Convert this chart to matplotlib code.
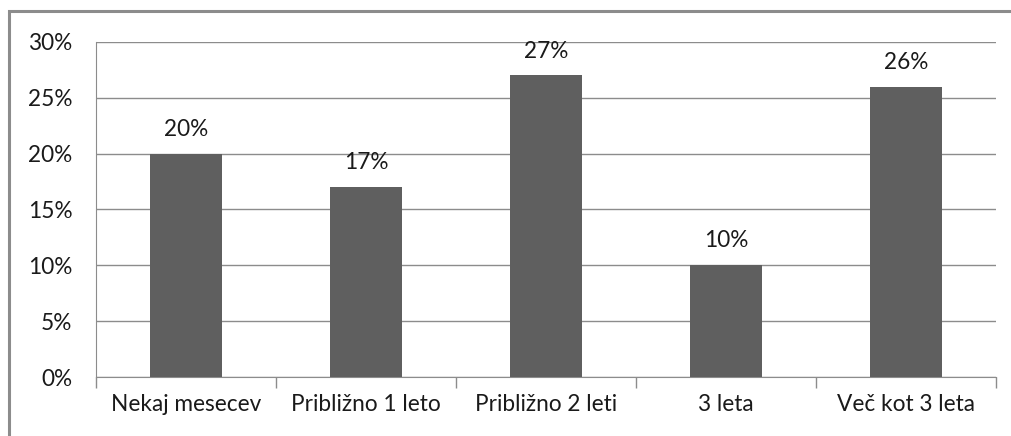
import matplotlib
matplotlib.use('Agg')
import matplotlib.pyplot as plt
from matplotlib.patches import Rectangle

categories = ['Nekaj mesecev', 'Približno 1 leto', 'Približno 2 leti', '3 leta', 'Več kot 3 leta']
shares = [20, 17, 27, 10, 26]
yticks = [0, 5, 10, 15, 20, 25, 30]

plt.rcParams['font.family'] = ['Lato', 'DejaVu Sans']

W, H = 1011, 436
fig = plt.figure(figsize=(W / 100, H / 100), dpi=100)
fig.patch.set_facecolor('white')

# outer chart frame (runs off the right and bottom edge)
fig.patches.append(Rectangle((9 / W, -0.05), 1.1, 1 - 11 / H + 0.05, transform=fig.transFigure,
                             fill=False, edgecolor='#8c8c8c', linewidth=2.2))

ax = fig.add_axes([96 / W, (H - 377) / H, 900 / W, 335 / H])
x = range(len(categories))
ax.bar(x, shares, width=0.395, color='#5f5f5f', zorder=3)

fs = 16.3
txt = '#1a1a1a'
for i, v in enumerate(shares):
    ax.text(i, v + 1.6, f'{v}%', ha='center', va='baseline', fontsize=fs, color=txt)

ax.set_xlim(-0.5, len(categories) - 0.5)
ax.set_ylim(0, 30)
ax.set_yticks(yticks)
ax.set_yticklabels([f'{t}%' for t in yticks], fontsize=fs, color=txt)
ax.yaxis.grid(True, color='#8c8c8c', linewidth=1.0, zorder=0)
ax.tick_params(axis='y', length=0, pad=17)

# category labels centered, ticks at the category boundaries
ax.set_xticks(list(x))
ax.set_xticklabels(categories, fontsize=fs, color=txt)
ax.tick_params(axis='x', length=0, pad=12.5)
ax.set_xticks([i - 0.5 for i in range(len(categories) + 1)], minor=True)
ax.tick_params(axis='x', which='minor', length=8, color='#8c8c8c', width=1)

for side in ['top', 'right']:
    ax.spines[side].set_visible(False)
ax.spines['left'].set_color('#8c8c8c')
ax.spines['bottom'].set_color('#8c8c8c')

fig.savefig('out.png', dpi=100, facecolor='white')
